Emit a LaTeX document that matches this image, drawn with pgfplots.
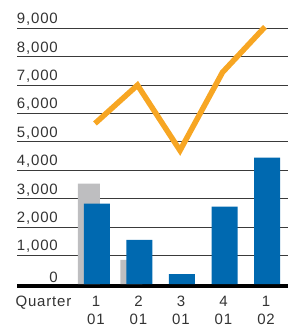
\documentclass[border=0pt]{standalone}
\usepackage{pgfplots}
\pgfplotsset{compat=1.18}
\usepackage{fontspec}
\setmainfont{Liberation Sans}[LetterSpace=5.5]
\definecolor{barblue}{HTML}{0069B0}
\definecolor{bargrey}{HTML}{BEBEC0}
\definecolor{lineorange}{HTML}{F7A623}
\definecolor{gridc}{HTML}{3A3A3A}
\definecolor{txt}{HTML}{333333}
\begin{document}
\begin{tikzpicture}
\useasboundingbox (0,0) rectangle (294pt,327pt);
\begin{axis}[
  at={(17pt,43pt)}, anchor=south west,
  scale only axis, width=271pt, height=255.7pt,
  xmin=-1.882, xmax=4.494, ymin=0, ymax=9000,
  axis line style={draw=none},
  major tick length=0pt,
  clip=false,
  ytick={1000,2000,...,9000},
  ymajorgrids, grid style={gridc, line width=1pt},
  extra y ticks={0},
  extra y tick style={grid style={black, line width=4pt, yshift=-2pt}, yticklabel style={yshift=-3.3pt}},
  /pgf/number format/assume math mode=true,
  /pgf/number format/1000 sep={,},
  scaled y ticks=false,
  yticklabel style={font=\fontsize{15}{18}\selectfont, text=txt, anchor=base east, inner sep=0pt, xshift=41pt, yshift=4.7pt},
  xtick={0,1,2,3,4},
  xticklabels={{1\\01},{2\\01},{3\\01},{4\\01},{1\\02}},
  extra x ticks={-1.26},
  extra x tick labels={Quarter},
  xticklabel style={font=\fontsize{15}{18.5}\selectfont, text=txt, align=center, anchor=base, inner sep=0pt, xshift=-1pt, yshift=-40.8pt},
  extra x tick style={xticklabel style={xshift=1pt, yshift=18.5pt}},
]
\addplot[ybar, bar width=22pt, bar shift=-8pt, fill=bargrey, draw=none] coordinates {(0,3530) (1,850)};
\addplot[ybar, bar width=26pt, bar shift=0pt, fill=barblue, draw=none] coordinates {(0,2830) (1,1550) (2,350) (3,2720) (4,4450)};
\addplot[lineorange, line width=5.5pt, line join=miter, line cap=butt, xshift=-2pt] coordinates {(0,5650) (1,7000) (2,4700) (3,7450) (4,9050)};
\end{axis}
\end{tikzpicture}
\end{document}
